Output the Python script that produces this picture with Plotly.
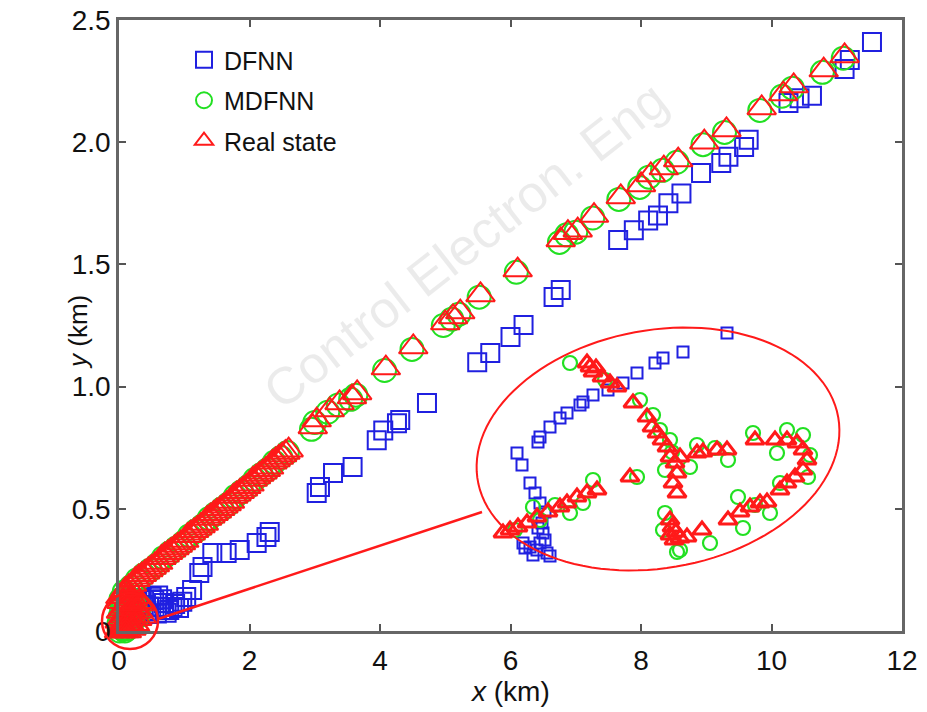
import numpy as np
import plotly.graph_objects as go

# ---------------- main-axes data (km) ----------------
real_x = [0.00, 0.02, 0.04, 0.06, 0.08, 0.10, 0.12, 0.14, 0.16, 0.05, 0.09, 0.13, 0.03, 0.07, 0.11,
          0.17, 0.20, 0.22, 0.01, 0.18, 0.25, 0.15, 0.04, 0.28, 0.30, 0.33, 0.24, 0.19, 0.27, 0.35,
          0.02, 0.06, 0.10, 0.14, 0.21, 0.26, 0.31, 0.08, 0.12, 0.16,
          0.10, 0.15, 0.20, 0.25, 0.30, 0.35, 0.40, 0.45, 0.50, 0.55, 0.60, 0.65, 0.70, 0.75, 0.80,
          0.85, 0.90, 0.95, 1.00, 1.05, 1.10, 1.15, 1.20, 1.25, 1.30, 1.35, 1.40, 1.45, 1.50, 1.55,
          1.60, 1.65, 1.70, 1.75, 1.80, 1.85, 1.90, 1.95, 2.00, 2.05, 2.10, 2.15, 2.20, 2.25, 2.30,
          2.35, 2.40, 2.45, 2.50, 2.55, 2.60,
          2.97, 3.03, 3.23, 3.38, 3.57, 3.65, 4.09, 4.51, 5.00, 5.12, 5.23, 5.54, 6.11, 6.77, 6.88,
          7.03, 7.28, 7.69, 8.00, 8.15, 8.35, 8.57, 8.97, 9.31, 9.85, 10.18, 10.34, 10.80, 11.12]
real_y = [0.00, 0.01, 0.00, 0.02, 0.01, 0.03, 0.02, 0.04, 0.03, 0.05, 0.06, 0.07, 0.08, 0.09, 0.10,
          0.08, 0.06, 0.10, 0.04, 0.12, 0.09, 0.13, 0.12, 0.05, 0.08, 0.11, 0.03, 0.01, 0.14, 0.06,
          0.14, 0.15, 0.16, 0.11, 0.13, 0.02, 0.12, 0.00, 0.00, 0.15,
          0.17, 0.18, 0.19, 0.21, 0.22, 0.23, 0.24, 0.25, 0.26, 0.27, 0.28, 0.30, 0.31, 0.32, 0.33,
          0.34, 0.35, 0.36, 0.37, 0.39, 0.40, 0.41, 0.42, 0.43, 0.44, 0.46, 0.47, 0.48, 0.49, 0.50,
          0.51, 0.52, 0.53, 0.55, 0.56, 0.57, 0.58, 0.59, 0.60, 0.62, 0.63, 0.64, 0.65, 0.66, 0.67,
          0.69, 0.70, 0.71, 0.72, 0.73, 0.74,
          0.835, 0.863, 0.904, 0.933, 0.957, 0.974, 1.076, 1.162, 1.260, 1.285, 1.305, 1.375, 1.477, 1.600, 1.630,
          1.640, 1.700, 1.776, 1.825, 1.866, 1.894, 1.927, 2.000, 2.050, 2.140, 2.197, 2.230, 2.295, 2.353]

mdfnn_x = [0.01, 0.03, 0.05, 0.07, 0.09, 0.11, 0.13, 0.15, 0.02, 0.06, 0.10, 0.14, 0.04, 0.08, 0.12,
           0.18, 0.21, 0.23, 0.00, 0.19, 0.26, 0.16, 0.03, 0.29, -0.02, 0.32,
           0.08, 0.18, 0.28, 0.38, 0.48, 0.58, 0.68, 0.78, 0.88, 0.98, 1.08, 1.18, 1.28, 1.38, 1.48,
           1.58, 1.68, 1.78, 1.88, 1.98, 2.08, 2.18, 2.28, 2.38, 2.48, 2.58,
           2.95, 3.00, 3.20, 3.36, 3.55, 3.63, 4.07, 4.49, 4.97, 5.10, 5.21, 5.52, 6.09, 6.75, 6.86,
           7.00, 7.26, 7.66, 7.98, 8.12, 8.33, 8.55, 8.95, 9.28, 9.82, 10.16, 10.32, 10.78, 11.10]
mdfnn_y = [0.00, 0.02, 0.01, 0.03, 0.00, 0.04, 0.01, 0.05, 0.06, 0.04, 0.07, 0.08, 0.09, 0.11, 0.09,
           0.07, 0.05, 0.11, 0.03, 0.13, 0.08, 0.12, 0.13, 0.06, 0.02, 0.10,
           0.16, 0.18, 0.21, 0.23, 0.25, 0.27, 0.30, 0.32, 0.34, 0.36, 0.39, 0.41, 0.43, 0.46, 0.48,
           0.50, 0.52, 0.55, 0.57, 0.59, 0.62, 0.64, 0.66, 0.69, 0.71, 0.73,
           0.825, 0.853, 0.895, 0.925, 0.948, 0.965, 1.066, 1.152, 1.250, 1.276, 1.296, 1.366, 1.468, 1.590, 1.621,
           1.632, 1.690, 1.766, 1.815, 1.857, 1.885, 1.918, 1.990, 2.040, 2.130, 2.188, 2.221, 2.286, 2.344]

dfnn_x = [0.23, 0.31, 0.38, 0.46, 0.54, 0.62, 0.69, 0.77, 0.82, 0.92, 0.28, 0.35, 0.42, 0.50, 0.58,
          0.66, 0.73, 0.86, 0.97, 0.44, 0.60,
          1.03, 1.12, 1.23, 1.28, 1.43,
          1.65, 1.85, 2.11, 2.26, 2.31, 3.03, 3.08, 3.28, 3.58, 3.95, 4.05, 4.26, 4.31, 4.72, 5.49,
          5.69, 6.00, 6.20, 6.66, 6.77, 7.65, 7.89, 8.11, 8.26, 8.42, 8.62, 8.92, 9.23, 9.34, 9.58,
          9.65, 10.26, 10.43, 10.62, 11.12, 11.20, 11.54]
dfnn_y = [0.086, 0.078, 0.106, 0.100, 0.127, 0.098, 0.115, 0.086, 0.098, 0.094, 0.120, 0.135, 0.082, 0.140, 0.072,
          0.130, 0.075, 0.110, 0.120, 0.070, 0.145,
          0.139, 0.168, 0.237, 0.262, 0.319,
          0.319, 0.331, 0.360, 0.385, 0.405, 0.565, 0.589, 0.646, 0.671, 0.780, 0.820, 0.850, 0.863, 0.933, 1.100,
          1.137, 1.203, 1.252, 1.367, 1.395, 1.600, 1.640, 1.680, 1.700, 1.750, 1.790, 1.874, 1.915, 1.940, 1.980,
          2.010, 2.160, 2.180, 2.190, 2.300, 2.336, 2.410]

# ---------------- inset (zoomed view near origin, km) ----------------
ins_dfnn_x = [0.257, 0.213, 0.193, 0.185, 0.167, 0.153, 0.138, 0.123, 0.113, 0.110, 0.097, 0.090, 0.080, 0.070,
              0.068, 0.047, 0.052, 0.060, 0.065, 0.070, 0.075, 0.072, 0.073, 0.070, 0.067, 0.060, 0.053, 0.077,
              0.063, 0.055, 0.075, 0.080, 0.068]
ins_dfnn_y = [0.247, 0.228, 0.222, 0.217, 0.207, 0.197, 0.190, 0.185, 0.178, 0.175, 0.167, 0.162, 0.153, 0.143,
              0.138, 0.127, 0.115, 0.097, 0.087, 0.077, 0.068, 0.057, 0.047, 0.037, 0.030, 0.033, 0.037, 0.027,
              0.025, 0.032, 0.040, 0.024, 0.052]

ins_real_x = [0.117, 0.120, 0.123, 0.126, 0.132, 0.140, 0.147, 0.163, 0.177, 0.182, 0.187, 0.192, 0.197, 0.200,
              0.205, 0.207, 0.203, 0.207, 0.200, 0.202, 0.206, 0.200, 0.210, 0.204, 0.160, 0.127, 0.117, 0.107,
              0.097, 0.090, 0.078, 0.067, 0.057, 0.048, 0.040, 0.033, 0.210, 0.227, 0.233, 0.247, 0.257, 0.285,
              0.305, 0.317, 0.327, 0.333, 0.337, 0.333, 0.325, 0.317, 0.310, 0.297, 0.290, 0.280, 0.270, 0.258,
              0.232, 0.217]
ins_real_y = [0.217, 0.213, 0.208, 0.212, 0.203, 0.197, 0.193, 0.177, 0.163, 0.153, 0.147, 0.140, 0.133, 0.123,
              0.117, 0.107, 0.097, 0.087, 0.060, 0.053, 0.048, 0.045, 0.042, 0.040, 0.103, 0.090, 0.087, 0.083,
              0.077, 0.073, 0.068, 0.063, 0.057, 0.053, 0.050, 0.047, 0.123, 0.127, 0.128, 0.130, 0.130, 0.140,
              0.140, 0.140, 0.137, 0.130, 0.120, 0.110, 0.103, 0.097, 0.090, 0.078, 0.077, 0.073, 0.068, 0.060,
              0.050, 0.043]

ins_mdfnn_x = [0.100, 0.135, 0.170, 0.183, 0.190, 0.200, 0.202, 0.195, 0.167, 0.123, 0.113, 0.100, 0.085, 0.063,
               0.070, 0.045, 0.195, 0.193, 0.207, 0.240, 0.210, 0.227, 0.220, 0.258, 0.245, 0.283, 0.307, 0.317,
               0.333, 0.340, 0.338, 0.310, 0.300, 0.268, 0.273, 0.285]
ins_mdfnn_y = [0.217, 0.200, 0.180, 0.165, 0.150, 0.140, 0.128, 0.110, 0.103, 0.100, 0.077, 0.067, 0.075, 0.073,
               0.060, 0.050, 0.067, 0.050, 0.028, 0.037, 0.030, 0.135, 0.113, 0.120, 0.132, 0.147, 0.127, 0.150,
               0.145, 0.125, 0.103, 0.097, 0.067, 0.083, 0.052, 0.075]

x_ticks = [0, 2, 4, 6, 8, 10, 12]
y_ticks = [0, 0.5, 1.0, 1.5, 2.0, 2.5]
y_tick_text = ["0", "0.5", "1.0", "1.5", "2.0", "2.5"]

BLUE = "#2020e0"
GREEN = "#22e022"
RED = "#ff1a1a"
FONT = "Liberation Sans, Arial"
TXT = "#111111"

W, H = 927, 712
L, R, T, B = 119, 25, 20, 81
PW, PH = W - L - R, H - T - B


def px(xp):
    return (xp - L) / PW


def py(yp):
    return (H - B - yp) / PH


fig = go.Figure()

# main traces
fig.add_trace(go.Scatter(x=dfnn_x, y=dfnn_y, mode="markers", name="DFNN", legendgroup="a",
                         marker=dict(symbol="square-open", size=18, color=BLUE, line=dict(width=2, color=BLUE)),
                         cliponaxis=False))
fig.add_trace(go.Scatter(x=mdfnn_x, y=mdfnn_y, mode="markers", name="MDFNN", legendgroup="b",
                         marker=dict(symbol="circle-open", size=23, color=GREEN, line=dict(width=2, color=GREEN)),
                         cliponaxis=False))
fig.add_trace(go.Scatter(x=real_x, y=real_y, mode="markers", name="Real state", legendgroup="c",
                         marker=dict(symbol="triangle-up-open", size=25, color=RED, line=dict(width=2, color=RED)),
                         cliponaxis=False))

# inset traces
fig.add_trace(go.Scatter(x=ins_dfnn_x, y=ins_dfnn_y, mode="markers", showlegend=False, xaxis="x2", yaxis="y2",
                         marker=dict(symbol="square-open", size=11, color=BLUE, line=dict(width=2, color=BLUE))))
fig.add_trace(go.Scatter(x=ins_mdfnn_x, y=ins_mdfnn_y, mode="markers", showlegend=False, xaxis="x2", yaxis="y2",
                         marker=dict(symbol="circle-open", size=14, color=GREEN, line=dict(width=2.2, color=GREEN))))
fig.add_trace(go.Scatter(x=ins_real_x, y=ins_real_y, mode="markers", showlegend=False, xaxis="x2", yaxis="y2",
                         marker=dict(symbol="triangle-up-open", size=16, color=RED, line=dict(width=3, color=RED))))

# ellipse outline (decoration) in paper coordinates
cx, cy, a, b, th = 658, 449, 183, 119, np.deg2rad(-10)
t = np.linspace(0, 2 * np.pi, 120)
ex = cx + a * np.cos(t) * np.cos(th) - b * np.sin(t) * np.sin(th)
ey = cy + a * np.cos(t) * np.sin(th) + b * np.sin(t) * np.cos(th)
path = "M " + " L ".join(f"{px(u):.5f},{py(v):.5f}" for u, v in zip(ex, ey)) + " Z"

shapes = [
    dict(type="path", path=path, xref="paper", yref="paper", line=dict(color=RED, width=2), layer="above"),
    dict(type="circle", xref="paper", yref="paper", x0=px(102), x1=px(158), y0=py(649), y1=py(593),
         line=dict(color=RED, width=2.5), layer="above"),
    dict(type="line", xref="paper", yref="paper", x0=px(158), y0=py(619), x1=px(482), y1=py(512),
         line=dict(color=RED, width=2.5), layer="above"),
]

axis_common = dict(showline=True, linecolor="#666666", linewidth=2.5, mirror="ticks", ticks="inside",
                   ticklen=7, tickwidth=2, tickcolor="#555555", showgrid=False, zeroline=False,
                   automargin=False, tickfont=dict(family=FONT, size=28, color=TXT))

fig.update_layout(
    width=W, height=H,
    margin=dict(l=L, r=R, t=T, b=B, autoexpand=False),
    paper_bgcolor="white", plot_bgcolor="rgba(0,0,0,0)",
    xaxis=dict(range=[0, 12], tickvals=x_ticks, domain=[0, 1], ticklabelstandoff=3, **axis_common),
    yaxis=dict(range=[0, 2.5], tickvals=y_ticks, ticktext=y_tick_text, domain=[0, 1], **axis_common),
    xaxis2=dict(domain=[px(470), px(850)], range=[0, 0.38], visible=False, anchor="y2"),
    yaxis2=dict(domain=[py(580), py(320)], range=[0, 0.26], visible=False, anchor="x2"),
    legend=dict(x=px(184), y=py(37), xanchor="left", yanchor="top", bgcolor="rgba(0,0,0,0)",
                font=dict(family=FONT, size=25, color=TXT),
                tracegroupgap=5, itemsizing="trace"),
    shapes=shapes,
    annotations=[
        dict(text="<i>x</i> (km)", xref="paper", yref="paper", x=px(510), y=py(691), showarrow=False,
             xanchor="center", yanchor="middle", font=dict(family=FONT, size=28, color=TXT)),
        dict(text="<i>y</i> (km)", xref="paper", yref="paper", x=px(78), y=py(332), showarrow=False,
             xanchor="center", yanchor="middle", textangle=-90, font=dict(family=FONT, size=26, color=TXT)),
        dict(text="Control Electron. Eng", xref="paper", yref="paper", x=px(250), y=py(245),
             showarrow=False, textangle=-38,
             font=dict(family=FONT, size=52, color="rgba(0,0,0,0.08)")),
    ],
)

fig.write_html("out.html")
